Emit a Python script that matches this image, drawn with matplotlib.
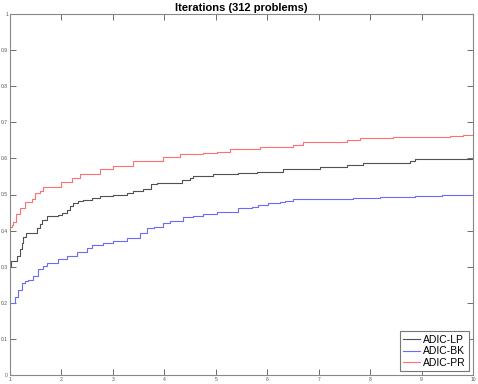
import matplotlib
matplotlib.use("Agg")
import matplotlib.pyplot as plt

plt.rcParams['font.family'] = ['Liberation Sans', 'DejaVu Sans']

# performance profile breakpoints (tau, fraction of problems solved)
lp_x = [1.0, 1.02, 1.13, 1.2, 1.23, 1.26, 1.32, 1.45, 1.52, 1.58, 1.62, 1.71, 1.94, 2.02, 2.1, 2.17, 2.23,
        2.32, 2.42, 2.59, 2.75, 3.0, 3.27, 3.4, 3.59, 3.75, 3.85, 4.34, 4.5, 4.56, 4.95, 5.44, 5.8,
        6.31, 6.77, 7.03, 7.55, 7.87, 8.39, 8.78, 8.87, 10.0]
lp_y = [0.30, 0.317, 0.33, 0.35, 0.365, 0.383, 0.392, 0.394, 0.406, 0.418, 0.429, 0.44, 0.443, 0.449,
        0.457, 0.467, 0.476, 0.481, 0.485, 0.489, 0.496, 0.499, 0.503, 0.51, 0.514, 0.529, 0.533,
        0.54, 0.547, 0.552, 0.557, 0.559, 0.563, 0.57, 0.572, 0.577, 0.583, 0.586, 0.588, 0.594,
        0.597, 0.597]

bk_x = [1.0, 1.1, 1.16, 1.23, 1.29, 1.35, 1.45, 1.55, 1.65, 1.71, 1.94, 2.1, 2.3, 2.49, 2.59, 2.81,
        3.01, 3.27, 3.53, 3.66, 3.79, 3.98, 4.11, 4.37, 4.56, 4.76, 5.02, 5.44, 5.7, 5.83, 6.02,
        6.25, 6.35, 6.51, 7.67, 8.19, 8.87, 9.39, 10.0]
bk_y = [0.20, 0.217, 0.235, 0.254, 0.261, 0.263, 0.274, 0.293, 0.302, 0.309, 0.32, 0.33, 0.342, 0.351,
        0.36, 0.365, 0.372, 0.38, 0.394, 0.406, 0.411, 0.42, 0.427, 0.437, 0.44, 0.446, 0.452,
        0.462, 0.464, 0.471, 0.476, 0.478, 0.481, 0.487, 0.489, 0.494, 0.497, 0.50, 0.50]

pr_x = [1.0, 1.03, 1.06, 1.12, 1.19, 1.29, 1.42, 1.49, 1.58, 1.65, 2.0, 2.2, 2.36, 2.75, 3.0, 3.4,
        3.98, 4.3, 4.76, 5.02, 5.28, 5.86, 6.5, 6.7, 7.55, 7.8, 8.45, 9.55, 9.81, 10.0]
pr_y = [0.41, 0.415, 0.425, 0.445, 0.462, 0.48, 0.487, 0.503, 0.51, 0.521, 0.534, 0.545, 0.558, 0.57,
        0.58, 0.593, 0.603, 0.612, 0.615, 0.619, 0.625, 0.632, 0.637, 0.646, 0.651, 0.656, 0.659,
        0.662, 0.665, 0.665]

fig = plt.figure(figsize=(4.78, 3.84), dpi=100)
ax = fig.add_axes([10 / 478, 1 - 375 / 384, 463 / 478, 361 / 384])

ax.plot(lp_x, lp_y, drawstyle='steps-post', color='#505050', lw=0.8, label='ADIC-LP')
ax.plot(bk_x, bk_y, drawstyle='steps-post', color='#6a6aff', lw=0.8, label='ADIC-BK')
ax.plot(pr_x, pr_y, drawstyle='steps-post', color='#ff7070', lw=0.8, label='ADIC-PR')

ax.set_xlim(1, 10)
ax.set_ylim(0, 1)
ax.set_xticks(range(1, 11))
ax.set_yticks([i / 10 for i in range(11)])
ax.set_yticklabels(['0'] + ['0.%d' % i for i in range(1, 10)] + ['1'])
ax.tick_params(direction='in', top=True, right=True, length=4, width=0.6,
               labelsize=3.6, colors='#555555', pad=1.5)
for s in ax.spines.values():
    s.set_color('#888888')
    s.set_linewidth(0.8)

ax.set_title('Iterations (312 problems)', fontsize=8, fontweight='bold', pad=2)

leg = ax.legend(loc='lower right', fontsize=7.5, handlelength=1.6, handletextpad=0.3,
                borderpad=0.3, labelspacing=0.15, fancybox=False, framealpha=1,
                borderaxespad=0.4)
leg.get_frame().set_edgecolor('#777777')
leg.get_frame().set_linewidth(0.8)

fig.savefig('out.png', dpi=100)
